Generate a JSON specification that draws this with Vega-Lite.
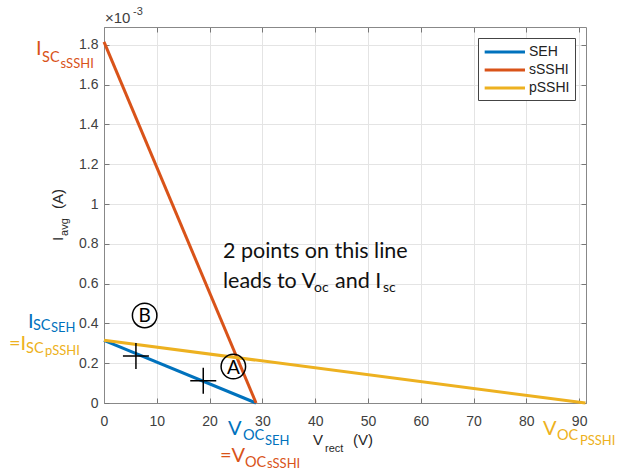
{
  "$schema": "https://vega.github.io/schema/vega-lite/v6.json",
  "width": 482,
  "height": 376,
  "autosize": {"type": "none"},
  "padding": {"left": 104, "top": 27, "right": 50, "bottom": 67},
  "background": "white",
  "config": {"view": {"stroke": null}},
  "datasets": {
    "lines": [
      {"series": "SEH", "x": 0, "y": 0.315},
      {"series": "SEH", "x": 28.8, "y": 0},
      {"series": "sSSHI", "x": 0, "y": 1.815},
      {"series": "sSSHI", "x": 28.8, "y": 0},
      {"series": "pSSHI", "x": 0, "y": 0.315},
      {"series": "pSSHI", "x": 91.2, "y": 0}
    ],
    "pts": [
      {"x": 6.05, "y": 0.236},
      {"x": 18.8, "y": 0.112}
    ],
    "circ": [
      {"label": "B", "x": 7.7, "y": 0.44},
      {"label": "A", "x": 24.5, "y": 0.183}
    ],
    "annBig": [
      {"text": "I", "series": "sSSHI", "x": -12.88, "y": 1.75},
      {"text": "I", "series": "SEH", "x": -14.39, "y": 0.377},
      {"text": "=I", "series": "pSSHI", "x": -18.0, "y": 0.266},
      {"text": "V", "series": "SEH", "x": 23.48, "y": -0.161},
      {"text": "=V", "series": "sSSHI", "x": 21.97, "y": -0.297},
      {"text": "V", "series": "pSSHI", "x": 83.14, "y": -0.161}
    ],
    "annMid": [
      {"text": "SC", "series": "sSSHI", "x": -11.74, "y": 1.714},
      {"text": "SC", "series": "SEH", "x": -13.45, "y": 0.367},
      {"text": "SC", "series": "pSSHI", "x": -14.77, "y": 0.251},
      {"text": "OC", "series": "SEH", "x": 26.33, "y": -0.186},
      {"text": "OC", "series": "sSSHI", "x": 26.7, "y": -0.322},
      {"text": "OC", "series": "pSSHI", "x": 85.8, "y": -0.186}
    ],
    "annSmall": [
      {"text": "sSSHI", "series": "sSSHI", "x": -8.24, "y": 1.684},
      {"text": "SEH", "series": "SEH", "x": -10.04, "y": 0.357},
      {"text": "pSSHI", "series": "pSSHI", "x": -11.17, "y": 0.241},
      {"text": "SEH", "series": "SEH", "x": 30.5, "y": -0.211},
      {"text": "sSSHI", "series": "sSSHI", "x": 30.87, "y": -0.327},
      {"text": "PSSHI", "series": "pSSHI", "x": 90.15, "y": -0.211}
    ],
    "noteBig": [
      {"text": "2 points on this line", "x": 22.54, "y": 0.729},
      {"text": "leads to V", "x": 22.54, "y": 0.578},
      {"text": "and I", "x": 43.75, "y": 0.578}
    ],
    "noteSub": [
      {"text": "oc", "x": 39.77, "y": 0.558},
      {"text": "sc", "x": 52.84, "y": 0.558}
    ],
    "xTitleMain": [
      {"text": "V", "x": 39.58, "y": -0.211},
      {"text": "(V)", "x": 47.16, "y": -0.211}
    ],
    "xTitleSub": [
      {"text": "rect", "x": 41.86, "y": -0.246}
    ],
    "yTitleMain": [
      {"text": "I", "x": -7.77, "y": 0.814},
      {"text": "(A)", "x": -7.77, "y": 0.975}
    ],
    "yTitleSub": [
      {"text": "avg", "x": -6.82, "y": 0.84}
    ],
    "expMain": [
      {"text": "×10", "x": 0.19, "y": 1.911}
    ],
    "expSup": [
      {"text": "-3", "x": 5.49, "y": 1.951}
    ]
  },
  "encoding": {
    "x": {"field": "x", "type": "quantitative", "scale": {"domain": [0, 91.3]}, "axis": null},
    "y": {"field": "y", "type": "quantitative", "scale": {"domain": [0, 1.89]}, "axis": null}
  },
  "layer": [
    {
      "data": {"name": "lines"},
      "mark": {"type": "line", "strokeWidth": 3, "clip": false},
      "encoding": {
        "x": {
          "field": "x", "type": "quantitative", "scale": {"domain": [0, 91.3]},
          "axis": {
            "orient": "bottom", "title": null,
            "values": [0, 10, 20, 30, 40, 50, 60, 70, 80, 90],
            "labelFont": "Liberation Sans", "labelFontSize": 14, "labelColor": "#404040",
            "labelPadding": 16, "labelFlush": false,
            "grid": true, "gridColor": "#e4e4e4", "gridWidth": 1,
            "tickSize": -5, "tickColor": "#777", "domainColor": "#888", "domainWidth": 1
          }
        },
        "y": {
          "field": "y", "type": "quantitative", "scale": {"domain": [0, 1.89]},
          "axis": {
            "orient": "left", "title": null,
            "values": [0, 0.2, 0.4, 0.6, 0.8, 1, 1.2, 1.4, 1.6, 1.8],
            "format": ".1~f",
            "labelFont": "Liberation Sans", "labelFontSize": 14, "labelColor": "#404040",
            "labelPadding": 11, "labelFlush": false,
            "grid": true, "gridColor": "#e4e4e4", "gridWidth": 1,
            "tickSize": -5, "tickColor": "#777", "domainColor": "#888", "domainWidth": 1
          }
        },
        "color": {
          "field": "series", "type": "nominal",
          "scale": {"domain": ["SEH", "sSSHI", "pSSHI"], "range": ["#0072BD", "#D95319", "#EDB120"]},
          "legend": {
            "orient": "none", "legendX": 374, "legendY": 11, "title": null,
            "strokeColor": "#444", "fillColor": "white", "padding": 5,
            "symbolType": "M-1,0L4.5,0", "symbolSize": 215, "symbolStrokeWidth": 3,
            "labelFont": "Liberation Sans", "labelFontSize": 14, "labelColor": "#222",
            "rowPadding": 2, "labelOffset": 28
          }
        }
      }
    },
    {
      "data": {"name": "pts"},
      "mark": {"type": "point", "shape": "M-1,0L1,0M0,-1L0,1", "size": 676, "stroke": "black", "strokeWidth": 1.5, "filled": false, "opacity": 1},
      "encoding": {
        "x": {
          "field": "x", "type": "quantitative", "scale": {"domain": [0, 91.3]},
          "axis": {
            "orient": "top", "title": null, "labels": false, "grid": false,
            "values": [0, 10, 20, 30, 40, 50, 60, 70, 80, 90],
            "tickSize": -5, "tickColor": "#777", "domainColor": "#888", "domainWidth": 1
          }
        },
        "y": {
          "field": "y", "type": "quantitative", "scale": {"domain": [0, 1.89]},
          "axis": {
            "orient": "right", "title": null, "labels": false, "grid": false,
            "values": [0, 0.2, 0.4, 0.6, 0.8, 1, 1.2, 1.4, 1.6, 1.8],
            "tickSize": -5, "tickColor": "#777", "domainColor": "#888", "domainWidth": 1
          }
        }
      }
    },
    {
      "data": {"name": "circ"},
      "mark": {"type": "point", "shape": "circle", "size": 600, "stroke": "black", "strokeWidth": 1.5, "filled": false, "opacity": 1}
    },
    {
      "data": {"name": "circ"},
      "mark": {"type": "text", "font": "Lato", "fontSize": 19, "align": "center", "baseline": "middle", "color": "black", "dy": 1},
      "encoding": {"text": {"field": "label"}}
    },
    {
      "data": {"name": "annBig"},
      "mark": {"type": "text", "font": "Lato", "fontSize": 20, "align": "left", "baseline": "alphabetic"},
      "encoding": {"text": {"field": "text"}, "color": {"field": "series", "type": "nominal", "legend": null}}
    },
    {
      "data": {"name": "annMid"},
      "mark": {"type": "text", "font": "Lato", "fontSize": 14.5, "align": "left", "baseline": "alphabetic"},
      "encoding": {"text": {"field": "text"}, "color": {"field": "series", "type": "nominal", "legend": null}}
    },
    {
      "data": {"name": "annSmall"},
      "mark": {"type": "text", "font": "Lato", "fontSize": 13, "align": "left", "baseline": "alphabetic"},
      "encoding": {"text": {"field": "text"}, "color": {"field": "series", "type": "nominal", "legend": null}}
    },
    {
      "data": {"name": "noteBig"},
      "mark": {"type": "text", "font": "Lato", "fontSize": 21.5, "align": "left", "baseline": "alphabetic", "color": "#111"},
      "encoding": {"text": {"field": "text"}}
    },
    {
      "data": {"name": "noteSub"},
      "mark": {"type": "text", "font": "Lato", "fontSize": 14, "align": "left", "baseline": "alphabetic", "color": "#111"},
      "encoding": {"text": {"field": "text"}}
    },
    {
      "data": {"name": "xTitleMain"},
      "mark": {"type": "text", "font": "Liberation Sans", "fontSize": 15, "align": "left", "baseline": "alphabetic", "color": "#262626"},
      "encoding": {"text": {"field": "text"}}
    },
    {
      "data": {"name": "xTitleSub"},
      "mark": {"type": "text", "font": "Liberation Sans", "fontSize": 11, "align": "left", "baseline": "alphabetic", "color": "#262626"},
      "encoding": {"text": {"field": "text"}}
    },
    {
      "data": {"name": "yTitleMain"},
      "mark": {"type": "text", "font": "Liberation Sans", "fontSize": 15, "align": "left", "baseline": "alphabetic", "angle": 270, "color": "#262626"},
      "encoding": {"text": {"field": "text"}}
    },
    {
      "data": {"name": "yTitleSub"},
      "mark": {"type": "text", "font": "Liberation Sans", "fontSize": 11, "align": "left", "baseline": "alphabetic", "angle": 270, "color": "#262626"},
      "encoding": {"text": {"field": "text"}}
    },
    {
      "data": {"name": "expMain"},
      "mark": {"type": "text", "font": "Liberation Sans", "fontSize": 15, "align": "left", "baseline": "alphabetic", "color": "#404040"},
      "encoding": {"text": {"field": "text"}}
    },
    {
      "data": {"name": "expSup"},
      "mark": {"type": "text", "font": "Liberation Sans", "fontSize": 11, "align": "left", "baseline": "alphabetic", "color": "#404040"},
      "encoding": {"text": {"field": "text"}}
    }
  ],
  "resolve": {"axis": {"x": "independent", "y": "independent"}}
}
